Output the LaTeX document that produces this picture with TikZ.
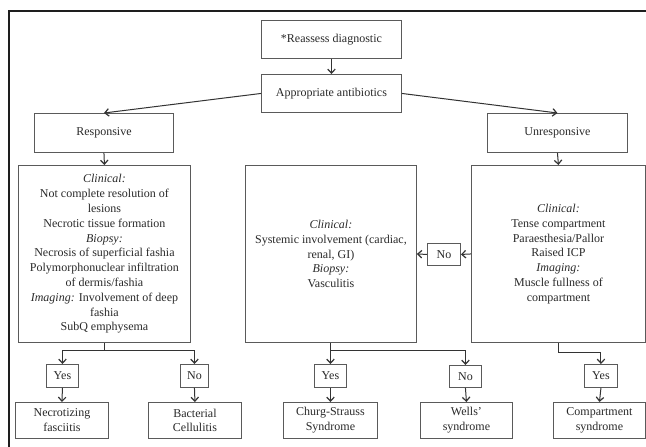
\documentclass[tikz,border=0pt]{standalone}
\usepackage{fontspec}
\setmainfont{Liberation Serif}
\usetikzlibrary{arrows.meta}
\definecolor{boxgray}{HTML}{5A5A5A}
\definecolor{txt}{HTML}{2A2A2A}
\definecolor{arrgray}{HTML}{333333}
\definecolor{frame}{HTML}{1E1E1E}
\begin{document}
\begin{tikzpicture}[x=1pt,y=-1pt,
 box/.style={draw=boxgray, line width=0.9pt, text=txt, align=center, inner sep=1pt,
   font=\fontsize{12}{14.8}\selectfont, anchor=north west},
 arr/.style={-{Straight Barb[length=4pt,width=7.5pt,line width=1.2pt]}, line width=1pt, draw=arrgray},
 ln/.style={line width=1pt, draw=arrgray}]
\useasboundingbox (0,0) rectangle (646,447);
\fill[white] (0,0) rectangle (646,447);
\draw[line width=1.1pt, draw=frame] (9,460) -- (9,11) -- (660,11);

\node[box, minimum width=140, minimum height=38] (re) at (261,20) {*Reassess diagnostic};
\node[box, minimum width=140, minimum height=38] (ap) at (261,74) {Appropriate antibiotics};
\node[box, minimum width=139, minimum height=39] (rs) at (34,113) {Responsive};
\node[box, minimum width=140, minimum height=39] (un) at (487,113) {Unresponsive};

\node[box, minimum width=172, minimum height=177] (L) at (18,165) {\textit{Clinical:}\\
Not complete resolution of\\ lesions\\ Necrotic tissue formation\\ \textit{Biopsy:}\\
Necrosis of superficial fashia\\ Polymorphonuclear infiltration\\ of dermis/fashia\\
\textit{Imaging:} Involvement of deep\\ fashia\\ SubQ emphysema};
\node[box, minimum width=171, minimum height=177] (M) at (245,165) {\textit{Clinical:}\\
Systemic involvement (cardiac,\\ renal, GI)\\ \textit{Biopsy:}\\ Vasculitis};
\node[box, minimum width=174, minimum height=177] (R) at (471,165) {\textit{Clinical:}\\
Tense compartment\\ Paraesthesia/Pallor\\ Raised ICP\\ \textit{Imaging:}\\ Muscle fullness of\\ compartment};

\node[box, minimum width=33, minimum height=22] (nm) at (427,243) {No};

\node[box, minimum width=32, minimum height=23] (y1) at (46,364) {Yes};
\node[box, minimum width=28, minimum height=23] (n1) at (180,364) {No};
\node[box, minimum width=32, minimum height=23] (y2) at (314,364) {Yes};
\node[box, minimum width=32, minimum height=22] (n2) at (449,365) {No};
\node[box, minimum width=33, minimum height=23] (y3) at (584,364) {Yes};

\node[box, minimum width=93, minimum height=36] (nf) at (15,402) {Necrotizing\\ fasciitis};
\node[box, minimum width=93, minimum height=36] (bc) at (148,402) {Bacterial\\ Cellulitis};
\node[box, minimum width=94, minimum height=36] (cs) at (283,402) {Churg-Strauss\\ Syndrome};
\node[box, minimum width=92, minimum height=36] (ws) at (420,402) {Wells'\\ syndrome};
\node[box, minimum width=92, minimum height=36] (cp) at (553,402) {Compartment\\ syndrome};

\draw[arr] (re.south) -- (ap.north);
\draw[arr] (ap.west) -- (rs.north);
\draw[arr] (ap.east) -- (un.north);
\draw[arr] (rs.south) -- (L.north);
\draw[arr] (un.south) -- (R.north);
\draw[arr] (R.west) -- (nm.east);
\draw[arr] (nm.west) -- (M.east);

\draw[ln] (L.south) -- ++(0,8) coordinate (lb);
\draw[arr] (lb) -| (y1.north);
\draw[arr] (lb) -| (n1.north);
\draw[ln] (M.south) -- ++(0,8) coordinate (mb);
\draw[arr] (mb) -| (y2.north);
\draw[arr] (mb) -| (n2.north);
\draw[ln] (R.south) -- ++(0,10) coordinate (rb);
\draw[arr] (rb) -| (y3.north);

\draw[arr] (y1.south) -- (nf.north);
\draw[arr] (n1.south) -- (bc.north);
\draw[arr] (y2.south) -- (cs.north);
\draw[arr] (n2.south) -- (ws.north);
\draw[arr] (y3.south) -- (cp.north);
\end{tikzpicture}
\end{document}
